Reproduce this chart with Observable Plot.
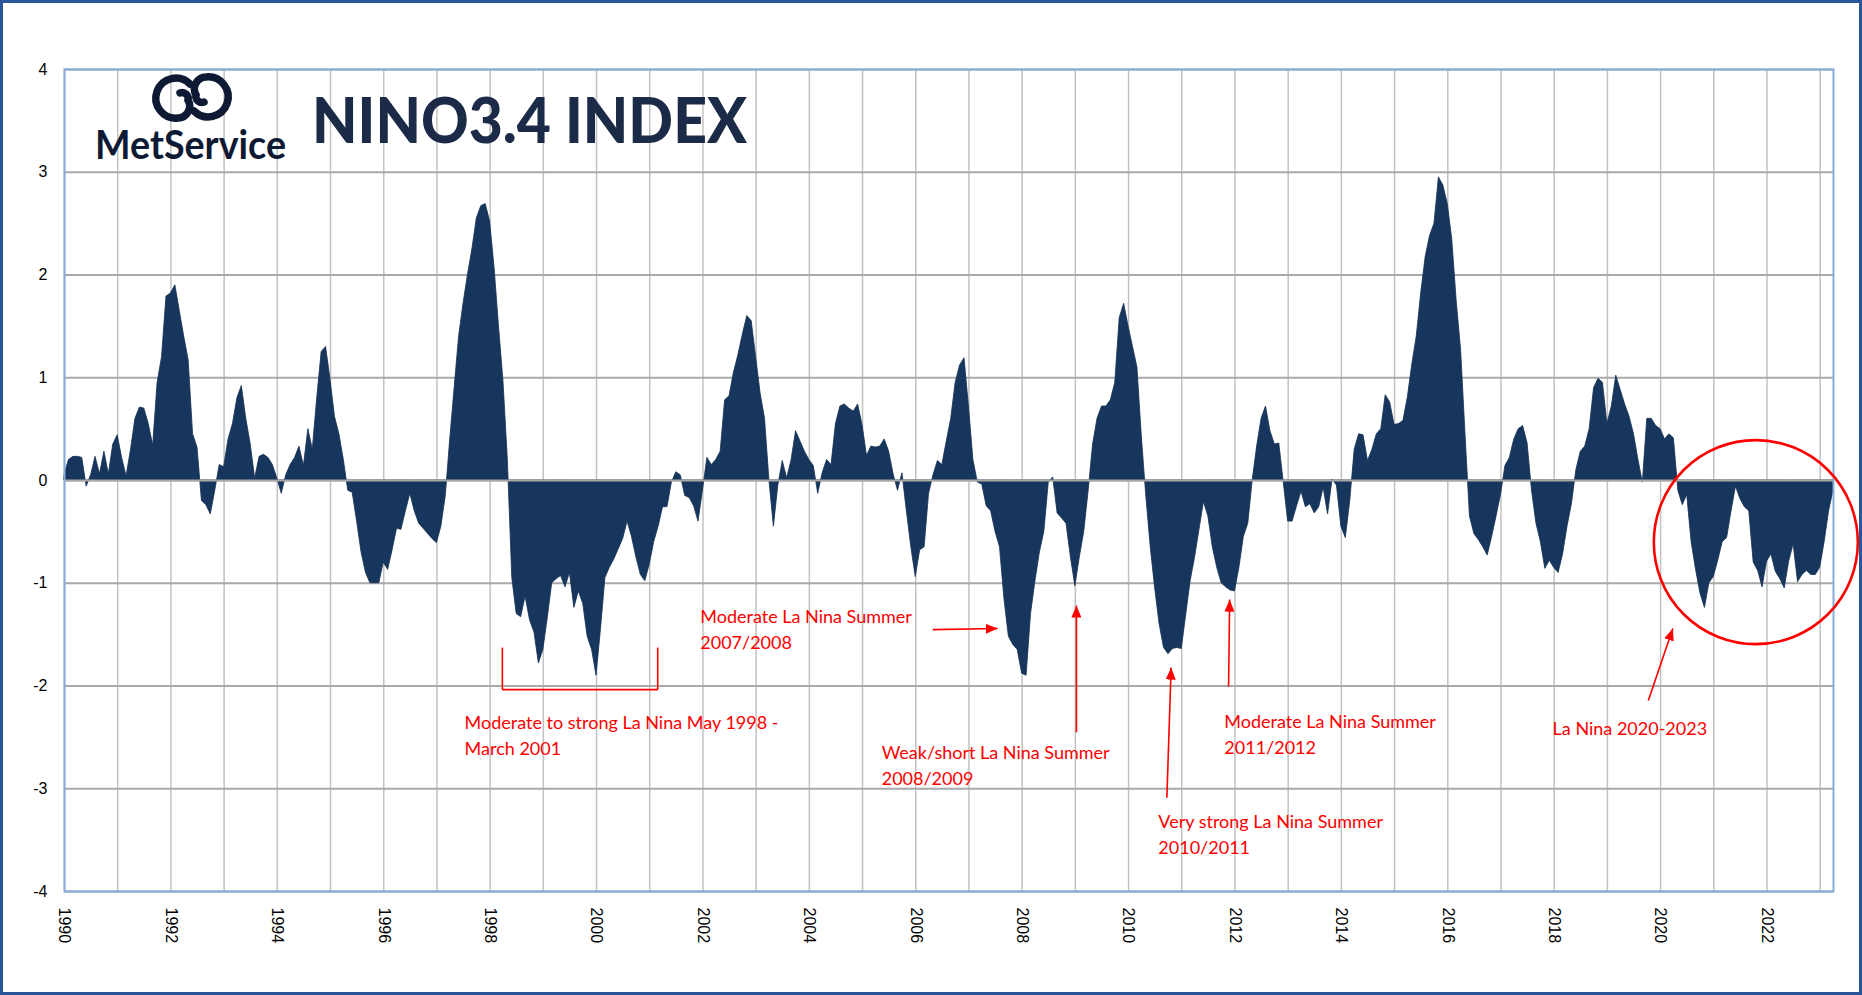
<!DOCTYPE html>
<html>
<head>
<meta charset="utf-8">
<script src="https://cdn.jsdelivr.net/npm/d3@7"></script>
<script src="https://cdn.jsdelivr.net/npm/@observablehq/plot@0.6"></script>
<style>
  body { margin: 0; background: #ffffff; }
  #wrap { position: relative; width: 1862px; height: 995px; overflow: hidden; background: #fff; }
  #border { position: absolute; left: 0; top: 0; width: 1862px; height: 995px; box-sizing: border-box;
            border: 3px solid #2a5598; pointer-events: none; }
</style>
</head>
<body>
<div id="wrap"><div id="border"></div></div>
<script>
// ---- Monthly NINO3.4 index values (Jan 1990 - Apr 2023) ----
const startYear = 1990;
const y1990 = [0.05, 0.20, 0.23, 0.23, 0.22, -0.06, 0.05, 0.23, 0.06, 0.28, 0.06, 0.35];
const y1991 = [0.44, 0.22, 0.04, 0.30, 0.60, 0.71, 0.70, 0.55, 0.34, 0.95, 1.20, 1.79];
const y1992 = [1.82, 1.90, 1.65, 1.40, 1.17, 0.45, 0.32, -0.20, -0.24, -0.33, -0.10, 0.15];
const y1993 = [0.13, 0.40, 0.55, 0.80, 0.92, 0.60, 0.35, 0.02, 0.23, 0.25, 0.22, 0.15];
const y1994 = [0.02, -0.13, 0.05, 0.15, 0.22, 0.33, 0.14, 0.50, 0.30, 0.80, 1.25, 1.30];
const y1995 = [0.98, 0.62, 0.45, 0.20, -0.10, -0.12, -0.40, -0.70, -0.90, -1.00, -1.00, -1.00];
const y1996 = [-0.80, -0.87, -0.68, -0.47, -0.48, -0.30, -0.13, -0.30, -0.42, -0.47, -0.52, -0.57];
const y1997 = [-0.61, -0.45, -0.15, 0.40, 0.90, 1.40, 1.72, 2.00, 2.25, 2.55, 2.67, 2.69];
const y1998 = [2.52, 2.07, 1.50, 0.97, 0.20, -0.95, -1.30, -1.33, -1.13, -1.36, -1.48, -1.78];
const y1999 = [-1.65, -1.34, -1.00, -0.96, -0.93, -1.04, -0.90, -1.24, -1.08, -1.20, -1.52, -1.65];
const y2000 = [-1.90, -1.45, -0.95, -0.85, -0.77, -0.67, -0.57, -0.40, -0.55, -0.75, -0.92, -0.98];
const y2001 = [-0.82, -0.60, -0.45, -0.26, -0.26, -0.02, 0.08, 0.05, -0.15, -0.17, -0.25, -0.40];
const y2002 = [-0.10, 0.22, 0.15, 0.20, 0.28, 0.78, 0.82, 1.05, 1.22, 1.42, 1.60, 1.55];
const y2003 = [1.20, 0.85, 0.60, 0.00, -0.45, -0.05, 0.19, 0.02, 0.20, 0.48, 0.38, 0.28];
const y2004 = [0.20, 0.14, -0.13, 0.07, 0.20, 0.15, 0.55, 0.72, 0.74, 0.70, 0.67, 0.74];
const y2005 = [0.54, 0.24, 0.33, 0.32, 0.33, 0.40, 0.28, 0.06, -0.10, 0.07, -0.30, -0.65];
const y2006 = [-0.94, -0.68, -0.65, -0.13, 0.05, 0.19, 0.15, 0.38, 0.60, 0.95, 1.12, 1.19];
const y2007 = [0.72, 0.20, -0.02, -0.04, -0.25, -0.30, -0.50, -0.65, -1.15, -1.52, -1.60, -1.65];
const y2008 = [-1.88, -1.90, -1.30, -0.98, -0.70, -0.50, -0.02, 0.03, -0.32, -0.37, -0.42, -0.75];
const y2009 = [-1.03, -0.75, -0.50, -0.10, 0.35, 0.60, 0.72, 0.72, 0.78, 0.95, 1.58, 1.72];
const y2010 = [1.50, 1.30, 1.10, 0.42, -0.15, -0.65, -1.05, -1.40, -1.63, -1.69, -1.64, -1.63];
const y2011 = [-1.64, -1.31, -0.98, -0.75, -0.48, -0.21, -0.35, -0.65, -0.85, -1.00, -1.04, -1.07];
const y2012 = [-1.08, -0.85, -0.55, -0.42, 0.00, 0.33, 0.60, 0.72, 0.48, 0.35, 0.36, -0.02];
const y2013 = [-0.40, -0.40, -0.25, -0.11, -0.26, -0.23, -0.32, -0.26, -0.07, -0.33, 0.01, -0.05];
const y2014 = [-0.45, -0.56, -0.20, 0.30, 0.45, 0.44, 0.19, 0.30, 0.45, 0.50, 0.83, 0.76];
const y2015 = [0.54, 0.55, 0.58, 0.81, 1.13, 1.40, 1.82, 2.17, 2.38, 2.50, 2.95, 2.87];
const y2016 = [2.69, 2.35, 1.75, 1.27, 0.45, -0.35, -0.52, -0.58, -0.65, -0.73, -0.55, -0.35];
const y2017 = [-0.14, 0.14, 0.22, 0.40, 0.50, 0.53, 0.36, -0.10, -0.42, -0.60, -0.86, -0.78];
const y2018 = [-0.85, -0.90, -0.72, -0.45, -0.23, 0.10, 0.28, 0.33, 0.50, 0.90, 0.99, 0.95];
const y2019 = [0.55, 0.72, 1.02, 0.88, 0.74, 0.62, 0.45, 0.20, -0.02, 0.60, 0.60, 0.53];
const y2020 = [0.50, 0.40, 0.45, 0.41, -0.10, -0.24, -0.14, -0.60, -0.87, -1.10, -1.24, -1.00];
const y2021 = [-0.94, -0.78, -0.60, -0.56, -0.30, -0.06, -0.18, -0.26, -0.30, -0.80, -0.88, -1.04];
const y2022 = [-0.79, -0.72, -0.89, -0.96, -1.05, -0.79, -0.62, -0.99, -0.92, -0.88, -0.92, -0.92];
const y2023 = [-0.85, -0.60, -0.30, -0.10];

// ---- Axis ticks ----
const yTicks = [-4, -3, -2, -1, 0, 1, 2, 3, 4];
const gridYears = d3.range(1990, 2024);
const labelYears = d3.range(1990, 2023, 2);

// ---- Annotations (data coordinates: decimal year, index value) ----
const notes = [
  {x: 1997.52, y: -2.24, text: "Moderate to strong La Nina May 1998 -\nMarch 2001"},
  {x: 2001.95, y: -1.21, text: "Moderate La Nina Summer\n2007/2008"},
  {x: 2005.36, y: -2.53, text: "Weak/short La Nina Summer\n2008/2009"},
  {x: 2010.56, y: -3.20, text: "Very strong La Nina Summer\n2010/2011"},
  {x: 2011.80, y: -2.23, text: "Moderate La Nina Summer\n2011/2012"},
  {x: 2017.97, y: -2.30, text: "La Nina 2020-2023"}
];
const arrows = [
  {x1: 2006.32, y1: -1.451, x2: 2007.54, y2: -1.441},
  {x1: 2009.02, y1: -2.451, x2: 2009.02, y2: -1.217},
  {x1: 2010.72, y1: -3.087, x2: 2010.80, y2: -1.821},
  {x1: 2011.88, y1: -2.006, x2: 2011.90, y2: -1.159},
  {x1: 2019.77, y1: -2.142, x2: 2020.23, y2: -1.441}
];
const bracket = [
  {x1: 1998.23, y1: -1.626, x2: 1998.23, y2: -2.035},
  {x1: 1998.23, y1: -2.035, x2: 2001.15, y2: -2.035},
  {x1: 2001.15, y1: -1.626, x2: 2001.15, y2: -2.035}
];
const circle = [{x: 2021.79, y: -0.60}];

const values = [].concat(y1990, y1991, y1992, y1993, y1994, y1995, y1996, y1997, y1998, y1999,
  y2000, y2001, y2002, y2003, y2004, y2005, y2006, y2007, y2008, y2009, y2010, y2011, y2012,
  y2013, y2014, y2015, y2016, y2017, y2018, y2019, y2020, y2021, y2022, y2023);
const data = values.map((v, i) => ({date: startYear + i / 12, value: v}));

const RED = "#ff0000";
const chart = Plot.plot({
  width: 1862,
  height: 995,
  marginLeft: 64,
  marginRight: 29,
  marginTop: 69,
  marginBottom: 104,
  x: {domain: [1990, startYear + (values.length - 1) / 12], axis: null},
  y: {domain: [-4, 4], axis: null},
  style: {fontFamily: "'Liberation Sans', Arial, sans-serif", background: "transparent", overflow: "visible"},
  marks: [
    Plot.ruleX(gridYears, {stroke: "#c2c2c2", strokeWidth: 1.5}),
    Plot.ruleY(yTicks, {stroke: "#a9a9a9", strokeWidth: 2}),
    Plot.areaY(data, {x: "date", y: "value", fill: "#17365d", stroke: "#142f52", strokeWidth: 0.8}),
    Plot.ruleY([0], {stroke: "#a9a9a9", strokeWidth: 2}),
    Plot.frame({stroke: "#86acdc", strokeWidth: 2}),
    Plot.text(yTicks, {y: d => d, text: d => String(d), frameAnchor: "left", textAnchor: "end",
      dx: -17, fontSize: 16, fill: "#000"}),
    Plot.text(labelYears, {x: d => d, text: d => String(d), frameAnchor: "bottom", rotate: 90,
      textAnchor: "start", lineAnchor: "middle", dy: 16, fontSize: 16, fill: "#000"}),
    Plot.link(bracket, {x1: "x1", y1: "y1", x2: "x2", y2: "y2", stroke: RED, strokeWidth: 1.6}),
    Plot.link(arrows, {x1: "x1", y1: "y1", x2: "x2", y2: "y2", stroke: RED, strokeWidth: 1.6}),
    Plot.dot(circle, {x: "x", y: "y", r: 102, stroke: RED, strokeWidth: 2.6, fill: "none"}),
    Plot.text(notes, {x: "x", y: "y", text: "text", textAnchor: "start", lineAnchor: "top",
      lineHeight: 1.44, fontSize: 18, fill: RED, fontFamily: "Lato"})
  ]
});

const svg = d3.select(chart);
// filled arrow heads on the second link mark (the arrows)
const defs = svg.insert("defs", ":first-child");
defs.append("marker")
  .attr("id", "redHead").attr("viewBox", "0 0 10 10").attr("refX", 10).attr("refY", 5)
  .attr("markerWidth", 12).attr("markerHeight", 10).attr("markerUnits", "userSpaceOnUse")
  .attr("orient", "auto").attr("preserveAspectRatio", "none")
  .append("path").attr("d", "M0,0L10,5L0,10Z").attr("fill", RED);
const linkGroups = svg.selectAll('g[aria-label="link"]').nodes();
if (linkGroups.length > 1) {
  d3.select(linkGroups[1]).selectAll("path, line").attr("marker-end", "url(#redHead)");
}

// Title and logo
const head = svg.append("g").attr("aria-label", "title").attr("text-anchor", "start");
head.append("text").text("NINO3.4 INDEX")
  .attr("x", 312).attr("y", 143).attr("font-family", "Lato").attr("font-weight", 900)
  .attr("font-size", 63).attr("fill", "#1b2a47").attr("text-anchor", "start")
  .attr("textLength", 435).attr("lengthAdjust", "spacingAndGlyphs");
head.append("text").text("MetService")
  .attr("x", 95).attr("y", 159).attr("font-family", "Lato").attr("font-weight", 700)
  .attr("font-size", 40).attr("fill", "#0e1a34").attr("text-anchor", "start")
  .attr("textLength", 191).attr("lengthAdjust", "spacingAndGlyphs");
const logo = head.append("g").attr("fill", "none").attr("stroke", "#0e1a34")
  .attr("stroke-width", 7.5).attr("stroke-linecap", "round");
logo.append("path").attr("d", "M190,84 A20,20 0 1 0 178,118 A12,12 0 0 0 188,100 A6,6 0 0 0 180,93");
logo.append("path").attr("d", "M194,111 A20,20 0 1 0 206,77 A12,12 0 0 0 196,95 A6,6 0 0 0 204,102");

document.getElementById("wrap").prepend(chart);
</script>
</body>
</html>
